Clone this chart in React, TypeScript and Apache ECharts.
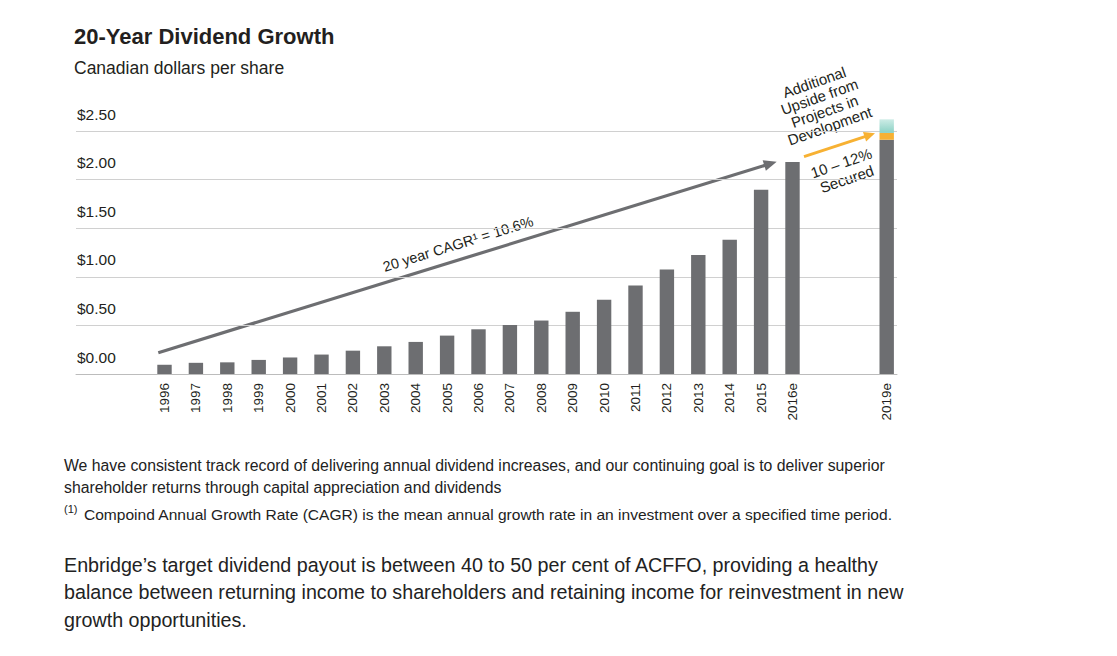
import React, { useEffect, useRef } from 'react';
import * as echarts from 'echarts';

// ---------- data ----------
const categories = [
  '1996', '1997', '1998', '1999', '2000', '2001', '2002', '2003', '2004', '2005',
  '2006', '2007', '2008', '2009', '2010', '2011', '2012', '2013', '2014', '2015',
  '2016e', '2017', '2018', '2019e',
];
const hiddenLabels = ['2017', '2018'];
const dividends = [
  0.095, 0.115, 0.12, 0.145, 0.17, 0.2, 0.24, 0.285, 0.33, 0.395,
  0.46, 0.505, 0.55, 0.64, 0.765, 0.91, 1.075, 1.225, 1.38, 1.895,
  2.18, null, null, 2.41,
];
const secured = [
  null, null, null, null, null, null, null, null, null, null,
  null, null, null, null, null, null, null, null, null, null,
  null, null, null, 0.07,
];
const upside = [
  null, null, null, null, null, null, null, null, null, null,
  null, null, null, null, null, null, null, null, null, null,
  null, null, null, 0.14,
];
const yMin = 0;
const yMax = 2.5;
const yStep = 0.5;

const titleText = '20-Year Dividend Growth';
const subtitleText = 'Canadian dollars per share';
const cagrText = '20 year CAGR\u00b9 = 10.6%';
const upsideText = 'Additional\nUpside from\nProjects in\nDevelopment';
const securedText = '10 \u2013 12%\nSecured';
const footLines = [
  'We have consistent track record of delivering annual dividend increases, and our continuing goal is to deliver superior',
  'shareholder returns through capital appreciation and dividends',
];
const footNoteMark = '(1)';
const footNote = 'Compoind Annual Growth Rate (CAGR) is the mean annual growth rate in an investment over a specified time period.';
const paraLines = [
  'Enbridge\u2019s target dividend payout is between 40 to 50 per cent of ACFFO, providing a healthy',
  'balance between returning income to shareholders and retaining income for reinvestment in new',
  'growth opportunities.',
];

// ---------- styles ----------
const FONT = '"Liberation Sans", Arial, Helvetica, sans-serif';
const INK = '#231f20';
const BAR = '#6d6e71';
const ORANGE = '#f7b133';

function arrow(x1: number, y1: number, x2: number, y2: number, color: string, width: number, headLen: number, headHalf: number) {
  const dx = x2 - x1;
  const dy = y2 - y1;
  const len = Math.sqrt(dx * dx + dy * dy);
  const ux = dx / len;
  const uy = dy / len;
  const bx = x2 - ux * headLen;
  const by = y2 - uy * headLen;
  const nx = -uy;
  const ny = ux;
  return [
    {
      type: 'line',
      shape: { x1, y1, x2: bx + ux * 2, y2: by + uy * 2 },
      style: { stroke: color, lineWidth: width },
      silent: true,
    },
    {
      type: 'polygon',
      shape: {
        points: [
          [x2, y2],
          [bx + nx * headHalf, by + ny * headHalf],
          [bx - nx * headHalf, by - ny * headHalf],
        ],
      },
      style: { fill: color },
      silent: true,
    },
  ];
}

function text(t: string, x: number, y: number, size: number, opts: any = {}) {
  return {
    type: 'text',
    x,
    y,
    rotation: opts.rotation || 0,
    silent: true,
    style: {
      text: t,
      fontFamily: FONT,
      fontSize: size,
      fontWeight: opts.weight || 'normal',
      fill: opts.color || INK,
      align: opts.align || 'left',
      verticalAlign: 'middle',
      lineHeight: opts.lineHeight || size * 1.2,
    },
  };
}

const deg = Math.PI / 180;

const option: any = {
  animation: false,
  backgroundColor: '#ffffff',
  grid: [
    { left: 76, top: 131, width: 821, height: 243 },
    { left: 148.8, top: 131, width: 753.6, height: 243 },
  ],
  xAxis: [
    {
      type: 'value',
      gridIndex: 0,
      min: 0,
      max: 1,
      axisLine: { show: true, onZero: false, lineStyle: { color: '#bcbcbc', width: 1 } },
      axisTick: { show: false },
      axisLabel: { show: false },
      splitLine: { show: false },
    },
    {
      type: 'category',
      gridIndex: 1,
      data: categories,
      boundaryGap: true,
      axisLine: { show: false },
      axisTick: { show: false },
      axisLabel: {
        interval: 0,
        rotate: 90,
        margin: 9,
        fontFamily: FONT,
        fontSize: 13.5,
        color: INK,
        formatter: (v: string) => (hiddenLabels.indexOf(v) >= 0 ? '' : v),
      },
    },
  ],
  yAxis: [
    {
      type: 'value',
      gridIndex: 0,
      min: yMin,
      max: yMax,
      interval: yStep,
      axisLine: { show: false },
      axisTick: { show: false },
      splitLine: { show: true, lineStyle: { color: '#d0d0d0', width: 1 } },
      axisLabel: {
        inside: true,
        margin: 1,
        align: 'left',
        verticalAlign: 'bottom',
        padding: [0, 0, 9, 0],
        lineHeight: 16,
        fontFamily: FONT,
        fontSize: 15.5,
        color: INK,
        formatter: (v: number) => '$' + v.toFixed(2),
      },
    },
    {
      type: 'value',
      gridIndex: 1,
      min: yMin,
      max: yMax,
      show: false,
      splitLine: { show: false },
    },
  ],
  series: [
    {
      name: 'Dividend',
      type: 'bar',
      xAxisIndex: 1,
      yAxisIndex: 1,
      stack: 'div',
      barWidth: 14.4,
      clip: false,
      data: dividends,
      itemStyle: { color: BAR },
    },
    {
      name: 'Secured',
      type: 'bar',
      xAxisIndex: 1,
      yAxisIndex: 1,
      stack: 'div',
      barWidth: 14.4,
      clip: false,
      data: secured,
      itemStyle: { color: ORANGE },
    },
    {
      name: 'Upside',
      type: 'bar',
      xAxisIndex: 1,
      yAxisIndex: 1,
      stack: 'div',
      barWidth: 14.4,
      clip: false,
      data: upside,
      itemStyle: {
        color: {
          type: 'linear',
          x: 0,
          y: 0,
          x2: 0,
          y2: 1,
          colorStops: [
            { offset: 0, color: '#cdece6' },
            { offset: 1, color: '#8ad1c4' },
          ],
        },
      },
    },
  ],
  graphic: [
    text(titleText, 74, 36, 22, { weight: 'bold' }),
    text(subtitleText, 74, 68, 17.5),
    ...arrow(158.3, 352.7, 776.7, 161.7, BAR, 3.2, 13, 5.5),
    ...arrow(804, 156.7, 875, 133.3, ORANGE, 3, 11, 5),
    text(cagrText, 458, 244, 14.5, { align: 'center', rotation: 17.2 * deg }),
    text(upsideText, 822, 104, 15, { align: 'center', rotation: 19.5 * deg, lineHeight: 15.5 }),
    text(securedText, 844, 171, 15, { align: 'center', rotation: 19 * deg, lineHeight: 17 }),
    text(footLines[0], 64, 465, 15.8, { color: '#222' }),
    text(footLines[1], 64, 487, 15.8, { color: '#222' }),
    text(footNoteMark, 64, 509, 11, { color: '#222' }),
    text(footNote, 84, 514, 15.55, { color: '#222' }),
    text(paraLines[0], 64, 565, 19.7, { color: '#222' }),
    text(paraLines[1], 64, 592, 19.7, { color: '#222' }),
    text(paraLines[2], 64, 620, 19.7, { color: '#222' }),
  ],
};

export default function App() {
  const ref = useRef<HTMLDivElement>(null);
  useEffect(() => {
    const chart = echarts.init(ref.current as HTMLDivElement, undefined, { renderer: 'svg' });
    chart.setOption(option);
    return () => chart.dispose();
  }, []);
  return (
    <div
      ref={ref}
      style={{ position: 'fixed', left: 0, top: 0, width: 1117, height: 656, background: '#fff' }}
    />
  );
}
